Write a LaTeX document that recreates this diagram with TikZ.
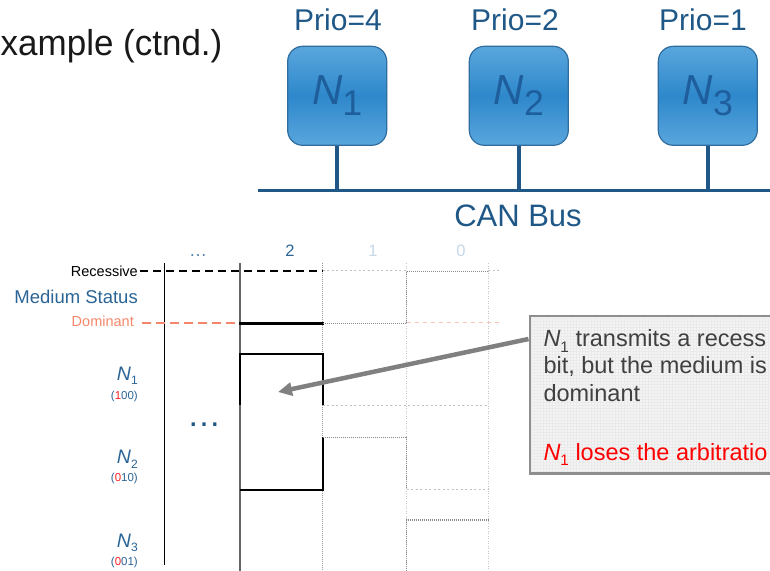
\documentclass[tikz,border=0pt]{standalone}
\usepackage{fontspec}
\usepackage{graphicx}
\setmainfont{Liberation Sans}
\usetikzlibrary{arrows.meta,calc}

\definecolor{busblue}{HTML}{1F5887}
\definecolor{labblue}{HTML}{2A6496}
\definecolor{nodetxt}{HTML}{1E5E9C}
\definecolor{boxedge}{HTML}{2E6D9E}
\definecolor{boxlight}{HTML}{5AA6DD}
\definecolor{boxdark}{HTML}{2E88CB}
\definecolor{salmon}{HTML}{F4876A}
\definecolor{salmonlight}{HTML}{F8C4B6}
\definecolor{paleblue}{HTML}{C6D7E7}
\definecolor{notegray}{HTML}{404040}
\definecolor{noteedge}{HTML}{8E8E8E}
\definecolor{notefill}{HTML}{F4F4F4}
\definecolor{notegrid}{HTML}{EAEAEA}
\definecolor{idxred}{HTML}{FF2020}

% italic N with an upright index
\newcommand{\Nsb}[2]{\textit{N}\raisebox{-0.25em}{\scalebox{#2}{#1}}}
\newcommand{\fs}[1]{\fontsize{#1}{1.2\dimexpr#1pt\relax}\selectfont}

\begin{document}
\begin{tikzpicture}[x=1pt,y=-1pt,
  cannode/.style={draw=boxedge, line width=1.2pt, rounded corners=15pt,
    minimum width=99pt, minimum height=99pt, inner sep=0pt,
    top color=boxlight, bottom color=boxlight, middle color=boxdark,
    text=nodetxt, font=\fs{42}},
  prio/.style={anchor=base, text=busblue, font=\fs{30}},
  buswire/.style={draw=busblue, line width=3.5pt},
  lvl/.style={anchor=base east, inner sep=0pt},
  sig/.style={black, line width=2.4pt, line cap=rect},
  recdash/.style={black, line width=1.6pt, dash pattern=on 8pt off 5pt},
  domdash/.style={salmon, line width=1.8pt, dash pattern=on 9pt off 5pt},
  ghost/.style={draw=black!45, line width=1.2pt, dash pattern=on 1pt off 1pt},
  faint/.style={draw=black!25, line width=0.9pt, dash pattern=on 2pt off 2.5pt},
  faintsal/.style={draw=salmonlight, line width=1.2pt, dash pattern=on 4pt off 4pt},
  gridv/.style={draw=black!22, line width=0.9pt, dash pattern=on 1pt off 1.5pt},
  bitlab/.style={anchor=base, font=\fs{16.5}},
  notetxt/.style={anchor=base west, inner sep=0pt, font=\fs{23.5}, text=notegray},
  pointer/.style={draw=black!50, line width=4.5pt, -{Triangle[length=14pt,width=13pt]}}
]
\useasboundingbox (0,0) rectangle (770,570);

% heading
\node[anchor=base west, inner sep=0pt, font=\fs{36}, text=black!90] (title) at (0.5,55) {\scalebox{0.972}[1]{xample (ctnd.)}};

% CAN nodes on the bus
\node[prio] (p1) at (338,30) {Prio=4};
\node[prio] (p2) at (515,30) {Prio=2};
\node[prio] (p3) at (703,30) {Prio=1};
\node[cannode] (n1) at (337.2,95.8) {\Nsb{1}{0.85}};
\node[cannode] (n2) at (518.8,95.8) {\Nsb{2}{0.85}};
\node[cannode] (n3) at (707.8,95.8) {\Nsb{3}{0.85}};
\coordinate (busL) at (258,190.7);
\coordinate (busR) at (775,190.7);
\draw[buswire] (busL) -- (busR);
\draw[buswire] (n1.south) -- (n1.south |- busL);
\draw[buswire] (n2.south) -- (n2.south |- busL);
\draw[buswire] (n3.south) -- (n3.south |- busL);
\node[anchor=base, text=busblue, font=\fs{31}] (bus) at (518,226) {CAN Bus};

% bit columns
\node[bitlab, text=labblue!80, font=\fs{18}] (bdots) at (198,256) {…};
\node[bitlab, text=labblue] (b2) at (290,256) {2};
\node[bitlab, text=paleblue] (b1) at (373,256) {1};
\node[bitlab, text=paleblue] (b0) at (461,256) {0};

\draw[gridv] (406.7,263) -- (406.7,575);
\draw[gridv] (488.3,263) -- (488.3,575);
\draw[draw=black!40, line width=1.4pt, dash pattern=on 1pt off 1pt] (322.7,263) -- (322.7,575);
\draw[black, line width=1pt] (164.3,263) -- (164.3,565);
\draw[draw=black!60, line width=1.6pt] (240,263) -- (240,575);

% row labels
\node[lvl, font=\fs{14.5}] (rec) at (138,276) {Recessive};
\node[lvl, font=\fs{18.5}, text=labblue] (med) at (138,303.4) {Medium Status};
\node[lvl, font=\fs{14.5}, text=salmon] (dom) at (134,326) {Dominant};
\node[lvl, font=\fs{19.5}, text=labblue] (l1) at (138,380) {\Nsb{1}{0.62}};
\node[lvl, font=\fs{11.5}, text=labblue] (c1) at (138,399) {(\textcolor{idxred}{1}00)};
\node[lvl, font=\fs{19.5}, text=labblue] (l2) at (138,463.7) {\Nsb{2}{0.62}};
\node[lvl, font=\fs{11.5}, text=labblue] (c2) at (138,481.3) {(\textcolor{idxred}{0}10)};
\node[lvl, font=\fs{19.5}, text=labblue] (l3) at (138,547) {\Nsb{3}{0.62}};
\node[lvl, font=\fs{11.5}, text=labblue] (c3) at (138,565.5) {(\textcolor{idxred}{0}01)};
\node[font=\fs{34}, text=busblue, inner sep=0pt] (mid) at (204,425) {…};

% medium status
\draw[recdash] (140,270.7) -- (322.7,270.7);
\draw[domdash] (141.7,323.3) -- (240,323.3);
\draw[faint] (322.7,270.7) -- (406.7,270.7);
\draw[faint] (488.3,270.7) -- (500,270.7);
\draw[faintsal] (406.7,322.8) -- (500,322.8);
\draw[sig] (240,323.3) -- (322.7,323.3);
\draw[ghost] (322.7,323.3) -- (406.7,323.3) -- (406.7,271.5) -- (488.3,271.5);

% node N1
\draw[sig, line cap=butt] (240,405.3) -- (240,354) -- (322.7,354) -- (322.7,405.3);
\draw[faint] (322.7,405.5) -- (488.3,405.5);

% node N2
\draw[sig, line cap=butt] (240,490) -- (322.7,490) -- (322.7,437.3);
\draw[ghost] (322.7,437.3) -- (406.7,437.3) -- (406.7,489);
\draw[faint] (406.7,489) -- (488.3,489);

% node N3
\draw[ghost] (406.7,575) -- (406.7,520) -- (488.3,520);

% callout
\node[anchor=north west, fill=notefill, minimum width=260pt, minimum height=157.3pt, inner sep=0pt] (note) at (530,316) {};
\begin{scope}
  \clip (note.north west) rectangle (note.south east);
  \draw[notegrid, line width=0.3pt] (note.north west) grid[step=3pt] (note.south east);
\end{scope}
\draw[noteedge, line width=2.5pt] (note.north west) rectangle (note.south east);
\node[notetxt] (t1) at (543.3,346.7) {\Nsb{1}{0.65} transmits a recess};
\node[notetxt] (t2) at (543.3,373.5) {bit, but the medium is};
\node[notetxt] (t3) at (543.3,401.7) {dominant};
\node[notetxt, text=red] (t4) at (543.3,460) {\Nsb{1}{0.65} loses the arbitratio};

\coordinate (tip) at (278,392);
\draw[pointer] ($(note.north west)+(-1.5,23)$) -- (tip);
\end{tikzpicture}
\end{document}
